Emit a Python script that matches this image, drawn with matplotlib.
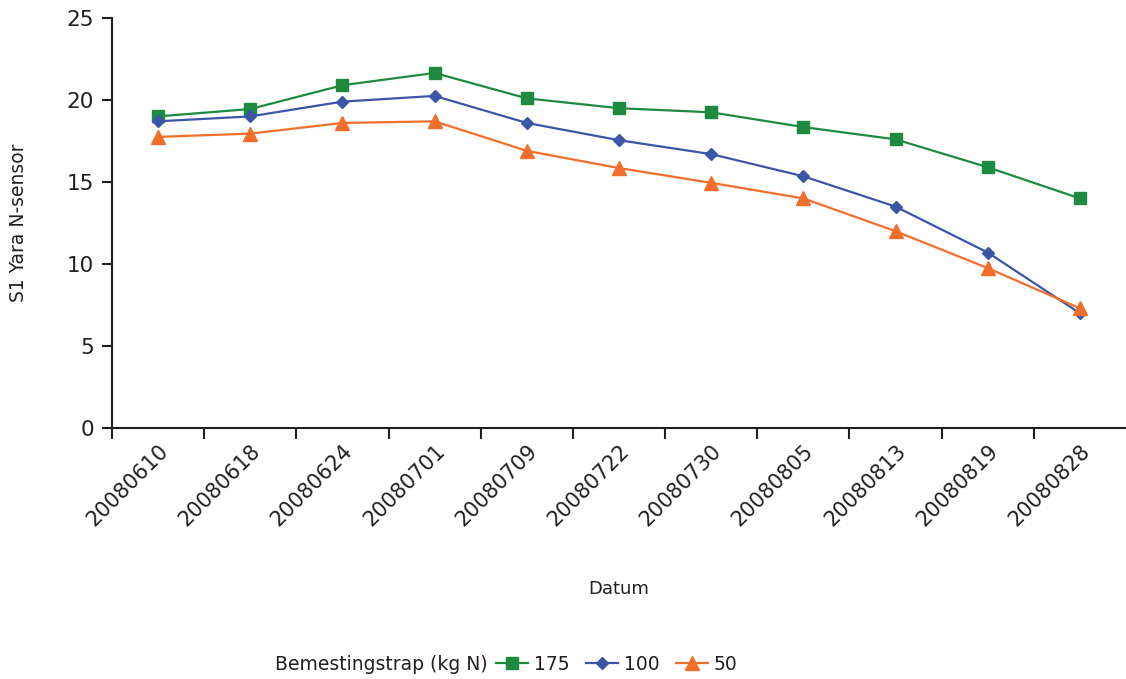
import matplotlib
matplotlib.use('Agg')
import matplotlib.pyplot as plt

dates = ['20080610', '20080618', '20080624', '20080701', '20080709', '20080722',
         '20080730', '20080805', '20080813', '20080819', '20080828']
n175 = [19.0, 19.45, 20.9, 21.65, 20.1, 19.5, 19.25, 18.35, 17.6, 15.9, 14.0]
n100 = [18.7, 19.0, 19.9, 20.25, 18.6, 17.55, 16.7, 15.35, 13.5, 10.7, 7.0]
n50 = [17.75, 17.95, 18.6, 18.7, 16.9, 15.85, 14.95, 14.0, 12.0, 9.75, 7.3]

plt.rcParams['font.family'] = ['DejaVu Sans']
ink = '#231f20'

fig = plt.figure(figsize=(11.26, 6.79), dpi=100)
ax = fig.add_axes([112 / 1126, 1 - 428 / 679, 1 - 112 / 1126, 410 / 679])

x = list(range(len(dates)))
ax.plot(x, n175, color='#1d8a40', marker='s', markersize=8.5, linewidth=1.6, label='175')
ax.plot(x, n100, color='#3b56a6', marker='D', markersize=6.5, linewidth=1.6, label='100')
ax.plot(x, n50, color='#f26e2b', marker='^', markersize=9.5, linewidth=1.6, label='50')

ax.set_xlim(-0.5, len(dates) - 0.5)
ax.set_ylim(0, 25)
ax.set_yticks([0, 5, 10, 15, 20, 25])

# ticks between categories, labels at centres
ax.set_xticks([i - 0.5 for i in range(len(dates))], minor=False)
ax.set_xticklabels([])
ax.set_xticks(x, minor=True)
ax.set_xticklabels(dates, minor=True, rotation=45, ha='right', rotation_mode='anchor')
ax.tick_params(axis='x', which='minor', length=0, pad=9, labelsize=15, colors=ink)
ax.tick_params(axis='x', which='major', length=8, width=1.5, color=ink)
ax.tick_params(axis='y', length=7, width=1.5, color=ink, labelsize=15.5, labelcolor=ink, pad=6)

for s in ['top', 'right']:
    ax.spines[s].set_visible(False)
for s in ['left', 'bottom']:
    ax.spines[s].set_linewidth(1.5)
    ax.spines[s].set_color(ink)

fig.text(19 / 1126, 1 - 223 / 679, 'S1 Yara N-sensor', fontsize=13.5, color=ink,
         rotation=90, ha='center', va='center')
fig.text(619 / 1126, 1 - 589 / 679, 'Datum', fontsize=13, color=ink, ha='center', va='center')

fig.text(275 / 1126, 1 - 664 / 679, 'Bemestingstrap (kg N)', fontsize=13.5, color=ink,
         ha='left', va='center')
fig.legend(loc='center left', bbox_to_anchor=(496 / 1126, 1 - 664 / 679), ncol=3,
           frameon=False, fontsize=13.5, handlelength=1.7, handletextpad=0.3,
           columnspacing=0.9, borderaxespad=0, borderpad=0, labelcolor=ink)

fig.savefig('out.png', dpi=100)
